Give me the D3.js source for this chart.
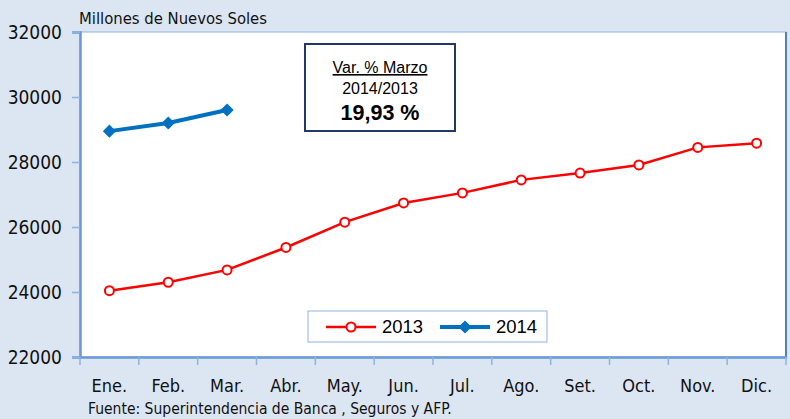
<!DOCTYPE html>
<html>
<head>
<meta charset="utf-8">
<script src="https://cdn.jsdelivr.net/npm/d3@7"></script>
<style>
  body { margin: 0; background: #dce6f2; }
  svg { display: block; }
</style>
</head>
<body>
<div id="chart"></div>
<script>
// data
const months = ["Ene.", "Feb.", "Mar.", "Abr.", "May.", "Jun.", "Jul.", "Ago.", "Set.", "Oct.", "Nov.", "Dic."];
const values2013 = [24040, 24300, 24680, 25370, 26150, 26740, 27050, 27450, 27660, 27910, 28450, 28580];
const values2014 = [28950, 29200, 29600];
const yTicks = [22000, 24000, 26000, 28000, 30000, 32000];

const width = 790, height = 419;
const narrow = "'Liberation Sans Narrow', 'DejaVu Sans Condensed', sans-serif";
const arial = "'Liberation Sans', Arial, sans-serif";

const svg = d3.select("#chart")
  .append("svg")
    .attr("width", width)
    .attr("height", height);

svg.append("rect")
    .attr("width", width).attr("height", height)
    .attr("fill", "#dce6f2");

const plot = { left: 80, right: 786, top: 32, bottom: 357 };

const x = d3.scaleBand()
  .domain(months)
  .range([plot.left, plot.right]);

const y = d3.scaleLinear()
  .domain([22000, 32000])
  .range([plot.bottom, plot.top]);

// plot area
svg.append("rect")
    .attr("x", plot.left).attr("y", plot.top)
    .attr("width", plot.right - plot.left)
    .attr("height", plot.bottom - plot.top)
    .attr("fill", "white")
    .attr("stroke", "#8db3e2")
    .attr("stroke-width", 1);

svg.append("line")
    .attr("x1", plot.right).attr("x2", plot.right)
    .attr("y1", plot.top).attr("y2", plot.bottom)
    .attr("stroke", "#4f81bd").attr("stroke-width", 2);

// y axis
const yAxis = svg.append("g")
    .attr("transform", `translate(${plot.left},0)`)
    .call(d3.axisLeft(y).tickValues(yTicks).tickSize(8).tickPadding(10).tickFormat(d3.format("d")));
yAxis.select(".domain").attr("stroke", "#6a98d8").attr("stroke-width", 2.5);
yAxis.selectAll(".tick line").attr("stroke", "#8db3e2").attr("stroke-width", 1.5);
yAxis.selectAll(".tick text")
    .attr("fill", "#111")
    .style("font-family", narrow)
    .style("font-size", "19px");

// x axis
const xAxis = svg.append("g")
    .attr("transform", `translate(0,${plot.bottom})`)
    .call(d3.axisBottom(x).tickSize(0).tickPadding(22));
xAxis.select(".domain").attr("stroke", "#6a98d8").attr("stroke-width", 2.5);
xAxis.selectAll(".tick text")
    .attr("fill", "#111")
    .style("font-family", narrow)
    .style("font-size", "18px");

// tick marks between categories
svg.append("g")
  .selectAll("line")
  .data(months.concat(["end"]))
  .join("line")
    .attr("x1", (d, i) => i < months.length ? x(d) : plot.right)
    .attr("x2", (d, i) => i < months.length ? x(d) : plot.right)
    .attr("y1", plot.bottom)
    .attr("y2", plot.bottom + 8)
    .attr("stroke", "#8db3e2")
    .attr("stroke-width", 1.5);

const cx = d => x(d) + x.bandwidth() / 2;

const line = d3.line()
  .x((d, i) => cx(months[i]))
  .y(d => y(d));

// 2013 series
svg.append("path")
    .datum(values2013)
    .attr("d", line)
    .attr("fill", "none")
    .attr("stroke", "#ff0000")
    .attr("stroke-width", 2.5);

svg.append("g")
  .selectAll("circle")
  .data(values2013)
  .join("circle")
    .attr("cx", (d, i) => cx(months[i]))
    .attr("cy", d => y(d))
    .attr("r", 4.5)
    .attr("fill", "white")
    .attr("stroke", "#ff0000")
    .attr("stroke-width", 2);

// 2014 series
svg.append("path")
    .datum(values2014)
    .attr("d", line)
    .attr("fill", "none")
    .attr("stroke", "#0070c0")
    .attr("stroke-width", 4);

const diamond = d3.symbol().type(d3.symbolDiamond2).size(110);

svg.append("g")
  .selectAll("path")
  .data(values2014)
  .join("path")
    .attr("d", diamond)
    .attr("transform", (d, i) => `translate(${cx(months[i])},${y(d)})`)
    .attr("fill", "#0070c0");

// title
svg.append("text")
    .attr("x", 79).attr("y", 24)
    .text("Millones de Nuevos Soles")
    .style("font-family", narrow)
    .style("font-size", "16.5px")
    .attr("fill", "#111");

// source
svg.append("text")
    .attr("x", 88).attr("y", 414)
    .text("Fuente: Superintendencia de Banca , Seguros y AFP.")
    .style("font-family", narrow)
    .style("font-size", "15.5px")
    .attr("fill", "#111");

// annotation box
const box = svg.append("g");
box.append("rect")
    .attr("x", 305).attr("y", 44)
    .attr("width", 150).attr("height", 87)
    .attr("fill", "white")
    .attr("stroke", "#1f3864")
    .attr("stroke-width", 2);
box.append("text")
    .attr("x", 380).attr("y", 73)
    .attr("text-anchor", "middle")
    .attr("text-decoration", "underline")
    .style("font-family", arial)
    .style("font-size", "16px")
    .text("Var. % Marzo");
box.append("text")
    .attr("x", 380).attr("y", 94)
    .attr("text-anchor", "middle")
    .style("font-family", arial)
    .style("font-size", "16px")
    .text("2014/2013");
box.append("text")
    .attr("x", 380).attr("y", 120)
    .attr("text-anchor", "middle")
    .style("font-family", arial)
    .style("font-size", "21.5px")
    .style("font-weight", "bold")
    .text("19,93 %");

// legend
const legend = svg.append("g");
legend.append("rect")
    .attr("x", 308).attr("y", 311)
    .attr("width", 239).attr("height", 31)
    .attr("fill", "white")
    .attr("stroke", "#8db3e2")
    .attr("stroke-width", 1);

legend.append("line")
    .attr("x1", 326).attr("x2", 376).attr("y1", 327).attr("y2", 327)
    .attr("stroke", "#ff0000").attr("stroke-width", 2.5);
legend.append("circle")
    .attr("cx", 351).attr("cy", 327).attr("r", 4.5)
    .attr("fill", "white").attr("stroke", "#ff0000").attr("stroke-width", 2);
legend.append("text")
    .attr("x", 382).attr("y", 333)
    .style("font-family", arial)
    .style("font-size", "18.5px")
    .text("2013");

legend.append("line")
    .attr("x1", 440).attr("x2", 490).attr("y1", 327).attr("y2", 327)
    .attr("stroke", "#0070c0").attr("stroke-width", 4);
legend.append("path")
    .attr("d", diamond)
    .attr("transform", "translate(465,327)")
    .attr("fill", "#0070c0");
legend.append("text")
    .attr("x", 496).attr("y", 333)
    .style("font-family", arial)
    .style("font-size", "18.5px")
    .text("2014");
</script>
</body>
</html>
